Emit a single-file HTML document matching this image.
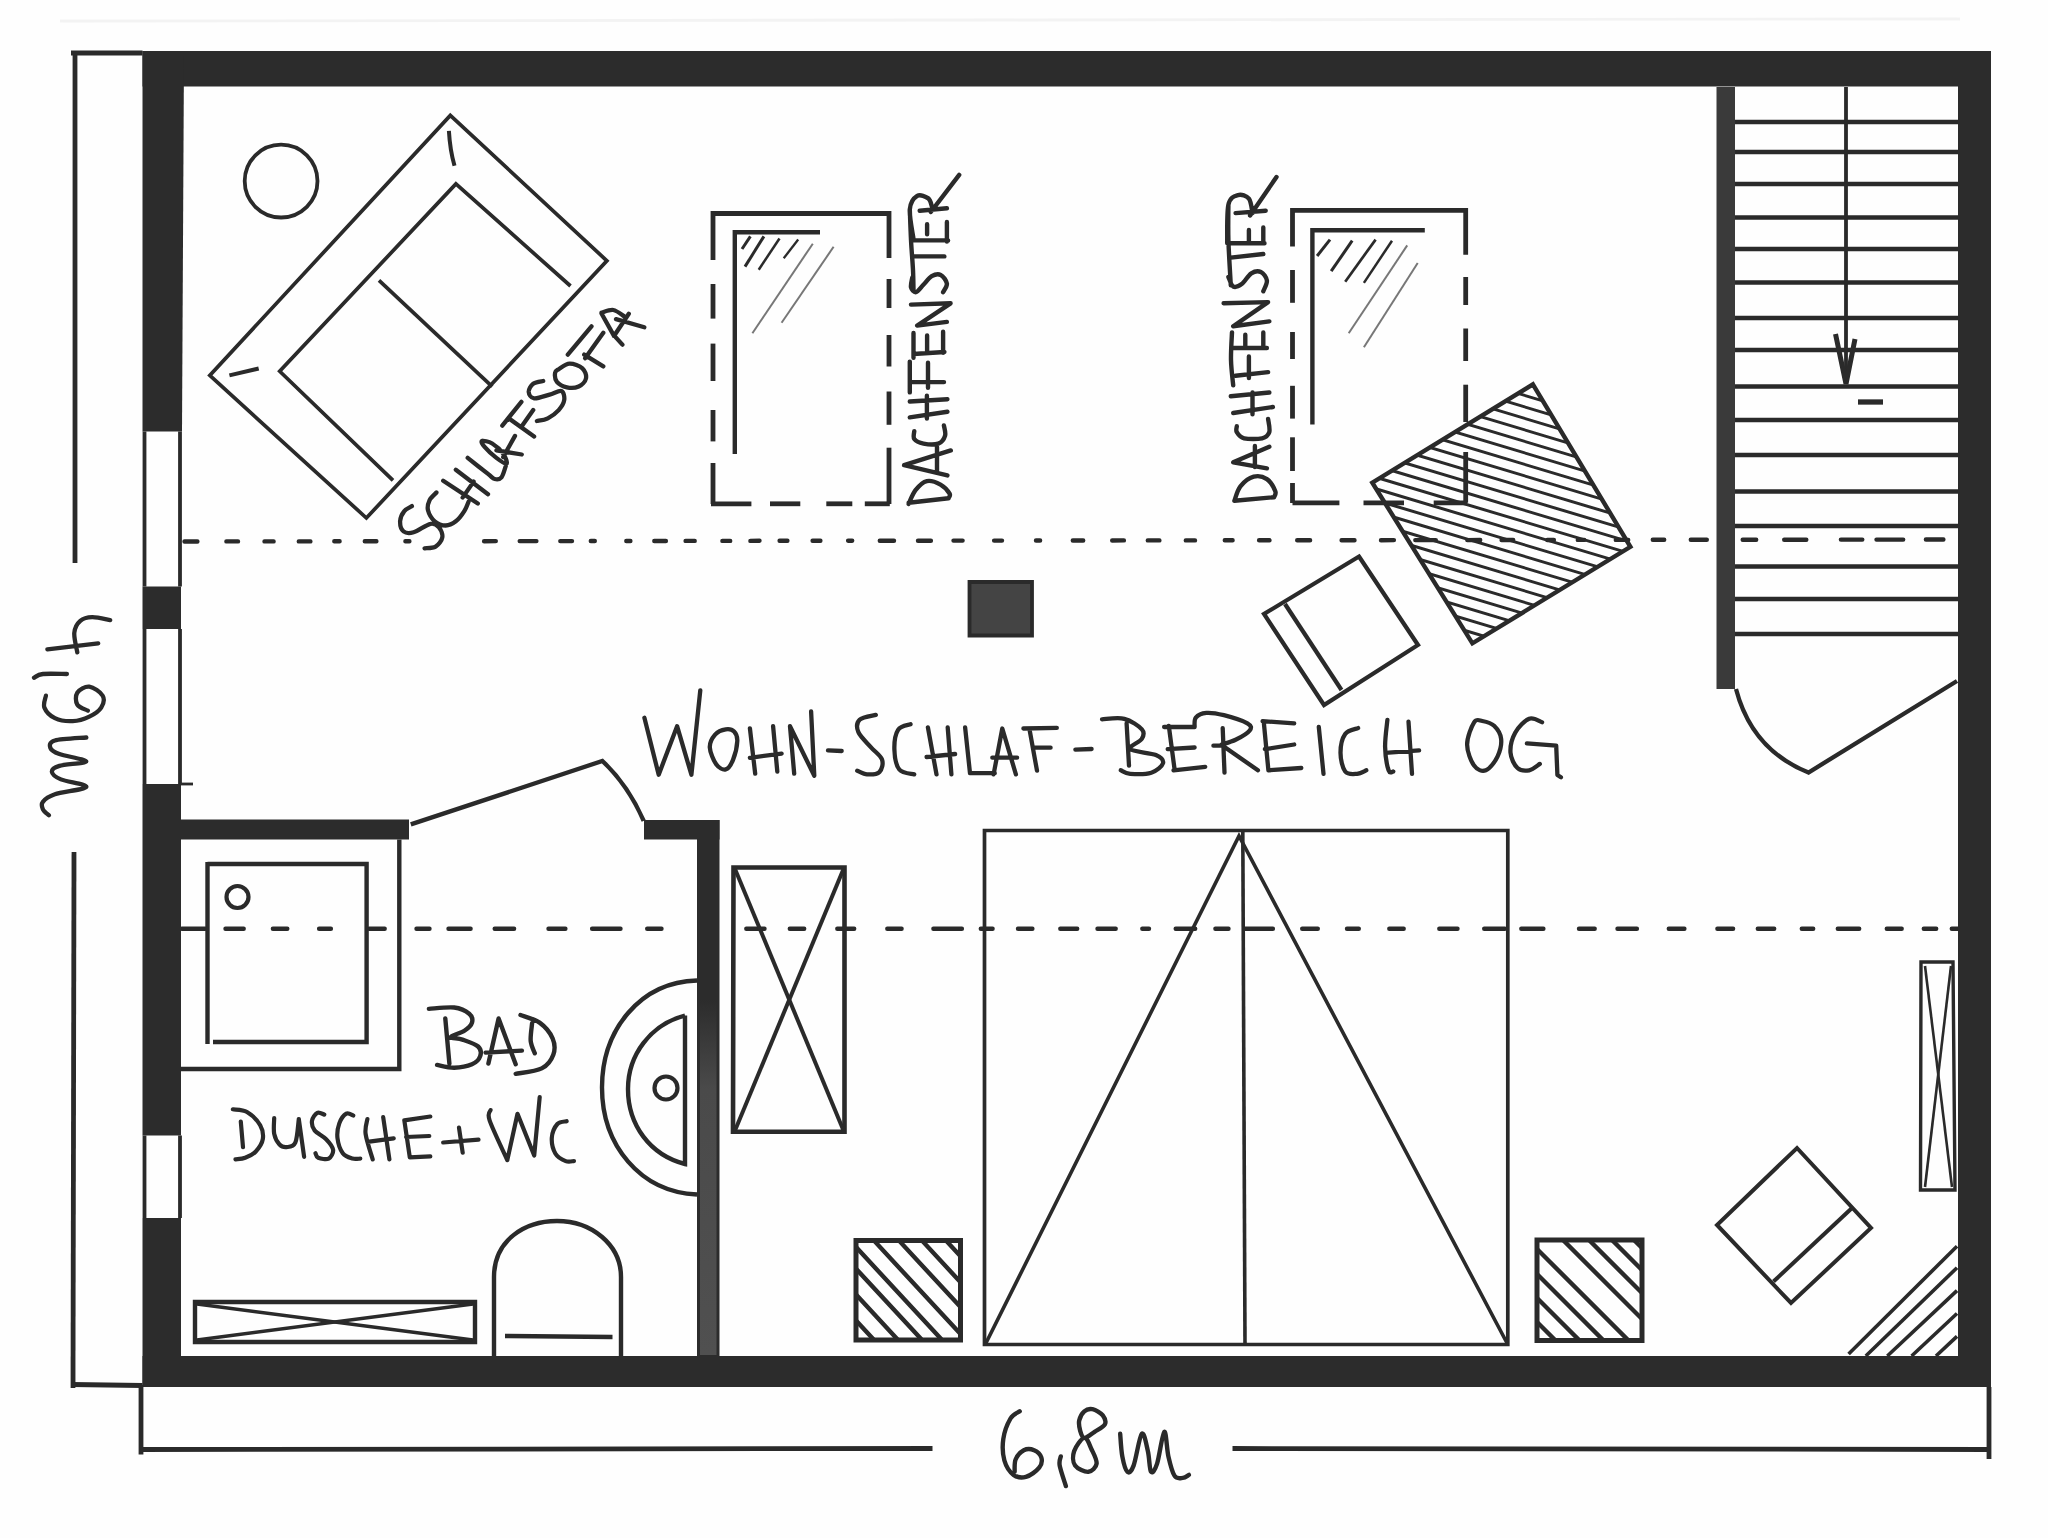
<!DOCTYPE html>
<html><head><meta charset="utf-8"><style>
html,body{margin:0;padding:0;background:#fff;}
body{width:2048px;height:1538px;overflow:hidden;font-family:"Liberation Sans",sans-serif;}
svg{display:block;}
</style></head><body>
<svg width="2048" height="1538" viewBox="0 0 2048 1538">
<rect x="0" y="0" width="2048" height="1538" fill="#fefefe"/>
<line x1="60" y1="21" x2="1960" y2="19" stroke="#f3f3f3" stroke-width="2.8" />
<path d="M184.5,541.5 L197.4,541.5 M226.4,541.4 L238,541.4 M264.5,541.4 L273.6,541.4 M298.8,541.4 L310.4,541.4 M334.3,541.3 L339.6,541.3 M364.8,541.3 L376.4,541.3 M405.4,541.2 L409.4,541.2 M484.1,541.2 L495.8,541.1 M519.7,541.1 L536.4,541.1 M560.3,541.1 L572,541.1 M590.8,541 L594.8,541 M626.3,541 L630.4,541 M654.3,541 L665.9,541 M685.6,540.9 L694.7,540.9 M722.4,540.9 L730.2,540.9 M750.4,540.9 L759.5,540.8 M779.6,540.8 L787.4,540.8 M812.6,540.8 L820.4,540.8 M848.1,540.8 L852.2,540.7 M879.8,540.7 L894,540.7 M918,540.7 L930.9,540.7 M953.5,540.6 L962.6,540.6 M994.1,540.6 L1002,540.6 M1036,540.5 L1040.1,540.5 M1072.8,540.5 L1083.2,540.5 M1112.2,540.5 L1123.9,540.4 M1147.8,540.4 L1159.4,540.4 M1185.8,540.4 L1195,540.4 M1224.8,540.3 L1232.6,540.3 M1259.1,540.3 L1269.5,540.3 M1297.2,540.2 L1310.1,540.2 M1341.6,540.2 L1354.5,540.2 M1381,540.2 L1393.9,540.1 M1415.3,540.1 L1435.8,540.1 M1467.3,540.1 L1480.2,540 M1501.6,540 L1513.2,540 M1547.3,540 L1553.9,540 M1577.8,539.9 L1584.2,539.9 M1615.8,539.9 L1628.2,539.9 M1652.8,539.8 L1664.2,539.8 M1690.8,539.8 L1706.8,539.8 M1742.7,539.7 L1756.2,539.7 M1784.2,539.7 L1806.3,539.7 M1840.9,539.6 L1862.3,539.6 M1876.5,539.6 L1903.2,539.6 M1925.9,539.5 L1943.4,539.5" stroke="#2a2a2a" stroke-width="4.4" stroke-linecap="round"/>
<path d="M181.8,928.7 L205.2,928.7 M225.5,928.7 L243.7,928.7 M272.9,928.7 L287.3,928.7 M319.1,928.7 L330.9,928.7 M369.1,928.7 L384.7,928.7 M416.5,928.7 L429.5,928.7 M448.5,928.7 L470.6,928.7 M494.7,928.7 L514.1,928.7 M548.5,928.7 L565.4,928.7 M592.1,928.7 L620.5,928.7 M647.2,928.7 L661.5,928.7 M746.3,928.7 L764.5,928.7 M789.8,928.7 L804.2,928.7 M837.3,928.7 L854.2,928.7 M887.3,928.7 L901.6,928.7 M933.4,928.7 L961.9,928.7 M980.8,928.7 L992.6,928.7 M1018,928.7 L1032.4,928.7 M1060.3,928.7 L1077.2,928.7 M1097.5,928.7 L1115.7,928.7 M1142.3,928.7 L1149,928.7 M1175.7,928.7 L1195.2,928.7 M1215.4,928.7 L1228.5,928.7 M1244.5,928.7 L1272.9,928.7 M1302.2,928.7 L1317.8,928.7 M1347,928.7 L1358.8,928.7 M1389.3,928.7 L1403.7,928.7 M1439.3,928.7 L1457.5,928.7 M1484.2,928.7 L1504.9,928.7 M1521.3,928.7 L1543.4,928.7 M1579,928.7 L1594.7,928.7 M1617.5,928.7 L1636.9,928.7 M1668.8,928.7 L1684.4,928.7 M1717.4,928.7 L1733.1,928.7 M1757.8,928.7 L1774.2,928.7 M1801.8,928.7 L1813.2,928.7 M1837.8,928.7 L1859.2,928.7 M1886.8,928.7 L1901.7,928.7 M1923.8,928.7 L1936.2,928.7 M1951.8,928.7 L1959.2,928.7" stroke="#2a2a2a" stroke-width="4.4" stroke-linecap="round"/>
<rect x="142.5" y="51" width="1848.5" height="35.5" fill="#2c2c2c"/>
<rect x="1958" y="51" width="33" height="1336" fill="#2c2c2c"/>
<rect x="142.5" y="1356" width="1848.5" height="31" fill="#2c2c2c"/>
<polygon points="142.5,51 184,51 182,431.5 142.5,431.5" stroke="none" stroke-width="0" fill="#2c2c2c" />
<rect x="142.5" y="586.5" width="38.5" height="42.5" fill="#2c2c2c"/>
<rect x="142.5" y="784" width="38.5" height="351.5" fill="#2c2c2c"/>
<rect x="142.5" y="1218" width="38.5" height="169" fill="#2c2c2c"/>
<line x1="144.5" y1="431.5" x2="144.5" y2="586.5" stroke="#2a2a2a" stroke-width="3.8" />
<line x1="180" y1="431.5" x2="180" y2="586.5" stroke="#2a2a2a" stroke-width="3.8" />
<line x1="144.5" y1="629" x2="144.5" y2="784" stroke="#2a2a2a" stroke-width="3.8" />
<line x1="180" y1="629" x2="180" y2="784" stroke="#2a2a2a" stroke-width="3.8" />
<line x1="144.5" y1="1135.5" x2="144.5" y2="1218" stroke="#2a2a2a" stroke-width="3.8" />
<line x1="180" y1="1135.5" x2="180" y2="1218" stroke="#2a2a2a" stroke-width="3.8" />
<line x1="180" y1="784" x2="193" y2="784" stroke="#2a2a2a" stroke-width="2.8" />
<rect x="180" y="819.5" width="229" height="20" fill="#2c2c2c"/>
<rect x="644" y="820" width="75.5" height="19.5" fill="#2c2c2c"/>
<rect x="697" y="820" width="22.5" height="537" fill="#2c2c2c"/>
<defs><linearGradient id="bw" x1="0" y1="0" x2="0" y2="1"><stop offset="0" stop-color="#2c2c2c"/><stop offset="0.25" stop-color="#4a4a4a"/><stop offset="1" stop-color="#505050"/></linearGradient></defs>
<rect x="700" y="1000" width="16.5" height="355" fill="url(#bw)"/>
<rect x="1716.5" y="87" width="18.5" height="602" fill="#3a3a3a"/>
<rect x="969.5" y="582" width="62.5" height="53.5" fill="#444"/>
<polygon points="969.5,582 1032,582 1032,635.5 969.5,635.5" stroke="#2a2a2a" stroke-width="3.8" fill="none" />
<line x1="75" y1="53" x2="75" y2="563" stroke="#2a2a2a" stroke-width="4.8" />
<line x1="71" y1="53" x2="142.5" y2="53" stroke="#2a2a2a" stroke-width="4.8" />
<line x1="74" y1="852" x2="73" y2="1388" stroke="#2a2a2a" stroke-width="4.8" />
<line x1="72" y1="1384.5" x2="142.5" y2="1385.5" stroke="#2a2a2a" stroke-width="4.8" />
<line x1="141" y1="1385" x2="141" y2="1454.5" stroke="#2a2a2a" stroke-width="4.8" />
<line x1="141" y1="1449.5" x2="932.5" y2="1448.5" stroke="#2a2a2a" stroke-width="4.8" />
<line x1="1232.5" y1="1448.5" x2="1989" y2="1449.5" stroke="#2a2a2a" stroke-width="4.8" />
<line x1="1989" y1="1387" x2="1989" y2="1459" stroke="#2a2a2a" stroke-width="4.8" />
<line x1="1735" y1="122" x2="1958" y2="122" stroke="#2a2a2a" stroke-width="4.6" />
<line x1="1735" y1="152" x2="1958" y2="152" stroke="#2a2a2a" stroke-width="4.6" />
<line x1="1735" y1="184" x2="1958" y2="184" stroke="#2a2a2a" stroke-width="4.6" />
<line x1="1735" y1="217.5" x2="1958" y2="217.5" stroke="#2a2a2a" stroke-width="4.6" />
<line x1="1735" y1="249" x2="1958" y2="249" stroke="#2a2a2a" stroke-width="4.6" />
<line x1="1735" y1="282.5" x2="1958" y2="282.5" stroke="#2a2a2a" stroke-width="4.6" />
<line x1="1735" y1="318" x2="1958" y2="318" stroke="#2a2a2a" stroke-width="4.6" />
<line x1="1735" y1="350" x2="1958" y2="350" stroke="#2a2a2a" stroke-width="4.6" />
<line x1="1735" y1="386.5" x2="1958" y2="386.5" stroke="#2a2a2a" stroke-width="4.6" />
<line x1="1735" y1="420" x2="1958" y2="420" stroke="#2a2a2a" stroke-width="4.6" />
<line x1="1735" y1="455" x2="1958" y2="455" stroke="#2a2a2a" stroke-width="4.6" />
<line x1="1735" y1="491.5" x2="1958" y2="491.5" stroke="#2a2a2a" stroke-width="4.6" />
<line x1="1735" y1="526" x2="1958" y2="526" stroke="#2a2a2a" stroke-width="4.6" />
<line x1="1735" y1="566.5" x2="1958" y2="566.5" stroke="#2a2a2a" stroke-width="4.6" />
<line x1="1735" y1="599" x2="1958" y2="599" stroke="#2a2a2a" stroke-width="4.6" />
<line x1="1735" y1="634" x2="1958" y2="634" stroke="#2a2a2a" stroke-width="4.6" />
<line x1="1846" y1="87" x2="1846" y2="380" stroke="#2a2a2a" stroke-width="3.8" />
<polyline points="1835.5,334 1846,384 1855,339" stroke="#2a2a2a" stroke-width="5" fill="none" />
<line x1="1858" y1="402" x2="1883" y2="402" stroke="#2a2a2a" stroke-width="5.3" />
<path d="M1736,689 Q1752,750 1808.5,772.5 L1957,681" stroke="#2a2a2a" stroke-width="4.3" fill="none" />
<polygon points="450.3,115.4 606.9,260.8 366.4,518 209.8,375.4" stroke="#2a2a2a" stroke-width="3.7" fill="none" />
<polyline points="570.5,286 455.9,183.9 279.7,371.3 393,480.3" stroke="#2a2a2a" stroke-width="3.7" fill="none" />
<line x1="379" y1="280.4" x2="492.2" y2="386.6" stroke="#2a2a2a" stroke-width="3.7" />
<path d="M448.9,130.8 Q450,150 454.5,165.7" stroke="#2a2a2a" stroke-width="4" fill="none" />
<line x1="229.4" y1="375.4" x2="258.7" y2="368.5" stroke="#2a2a2a" stroke-width="4" />
<circle cx="281.1" cy="181.1" r="36.4" stroke="#2a2a2a" stroke-width="3.8" fill="none"/>
<polyline points="713,260 713,213.5 889,213.5 889,258" stroke="#2a2a2a" stroke-width="4.8" fill="none" />
<line x1="713" y1="284" x2="713" y2="318.6" stroke="#2a2a2a" stroke-width="4.8" />
<line x1="713" y1="343.6" x2="713" y2="381" stroke="#2a2a2a" stroke-width="4.8" />
<line x1="713" y1="410" x2="713" y2="441.4" stroke="#2a2a2a" stroke-width="4.8" />
<line x1="713" y1="463" x2="713" y2="504" stroke="#2a2a2a" stroke-width="4.8" />
<line x1="889" y1="279" x2="889" y2="308" stroke="#2a2a2a" stroke-width="4.8" />
<line x1="889" y1="335" x2="889" y2="366.5" stroke="#2a2a2a" stroke-width="4.8" />
<line x1="889" y1="391.5" x2="889" y2="424.8" stroke="#2a2a2a" stroke-width="4.8" />
<line x1="889" y1="447.7" x2="889" y2="504" stroke="#2a2a2a" stroke-width="4.8" />
<line x1="711" y1="503.8" x2="751.4" y2="503.8" stroke="#2a2a2a" stroke-width="4.8" />
<line x1="770" y1="503.8" x2="800.3" y2="503.8" stroke="#2a2a2a" stroke-width="4.8" />
<line x1="826.3" y1="503.8" x2="852.3" y2="503.8" stroke="#2a2a2a" stroke-width="4.8" />
<line x1="864.8" y1="503.8" x2="889.8" y2="503.8" stroke="#2a2a2a" stroke-width="4.8" />
<polyline points="734.8,454 734.8,232.3 820,232.3" stroke="#2a2a2a" stroke-width="4.4" fill="none" />
<line x1="742" y1="249" x2="750.4" y2="236.4" stroke="#2a2a2a" stroke-width="3" />
<line x1="745" y1="266.6" x2="763.9" y2="236.4" stroke="#2a2a2a" stroke-width="3" />
<line x1="758.7" y1="269.7" x2="779.5" y2="238.5" stroke="#2a2a2a" stroke-width="2.5" />
<line x1="783.7" y1="258.3" x2="798.2" y2="239.5" stroke="#2a2a2a" stroke-width="2.3" />
<line x1="752.4" y1="333.2" x2="812.8" y2="243.7" stroke="#777" stroke-width="2" />
<line x1="781.6" y1="322.8" x2="833.6" y2="246.8" stroke="#777" stroke-width="2" />
<polyline points="1292.5,246.6 1292.5,210.3 1465.7,210.3 1465.7,254.8" stroke="#2a2a2a" stroke-width="4.8" fill="none" />
<line x1="1292.5" y1="270" x2="1292.5" y2="302.8" stroke="#2a2a2a" stroke-width="4.8" />
<line x1="1292.5" y1="332" x2="1292.5" y2="359" stroke="#2a2a2a" stroke-width="4.8" />
<line x1="1292.5" y1="385.8" x2="1292.5" y2="418.6" stroke="#2a2a2a" stroke-width="4.8" />
<line x1="1292.5" y1="437.3" x2="1292.5" y2="471" stroke="#2a2a2a" stroke-width="4.8" />
<line x1="1292.5" y1="483" x2="1292.5" y2="503" stroke="#2a2a2a" stroke-width="4.8" />
<line x1="1465.7" y1="277" x2="1465.7" y2="305" stroke="#2a2a2a" stroke-width="4.8" />
<line x1="1465.7" y1="328.5" x2="1465.7" y2="361" stroke="#2a2a2a" stroke-width="4.8" />
<line x1="1465.7" y1="384.7" x2="1465.7" y2="422" stroke="#2a2a2a" stroke-width="4.8" />
<line x1="1465.7" y1="452" x2="1465.7" y2="502.8" stroke="#2a2a2a" stroke-width="4.8" />
<line x1="1292.5" y1="502.8" x2="1339.4" y2="502.8" stroke="#2a2a2a" stroke-width="4.8" />
<line x1="1363.5" y1="502.8" x2="1404" y2="502.8" stroke="#2a2a2a" stroke-width="4.8" />
<line x1="1433.7" y1="502.8" x2="1467" y2="502.8" stroke="#2a2a2a" stroke-width="4.8" />
<polyline points="1312.4,424.5 1312.4,230.2 1424.8,230.2" stroke="#2a2a2a" stroke-width="4.4" fill="none" />
<line x1="1317.1" y1="256" x2="1330" y2="239.6" stroke="#2a2a2a" stroke-width="3" />
<line x1="1331.2" y1="271.2" x2="1352.2" y2="240.7" stroke="#2a2a2a" stroke-width="3" />
<line x1="1345.2" y1="281.7" x2="1375.6" y2="239.6" stroke="#2a2a2a" stroke-width="2.7" />
<line x1="1363.9" y1="282.9" x2="1392" y2="240.7" stroke="#2a2a2a" stroke-width="2.5" />
<line x1="1348.7" y1="333.2" x2="1407.2" y2="245.4" stroke="#777" stroke-width="2" />
<line x1="1363.9" y1="347.2" x2="1417.7" y2="263" stroke="#777" stroke-width="2" />
<clipPath id="ht"><polygon points="1532.9,384.4 1630.4,546.8 1472.4,643.3 1372.3,482.7"/></clipPath>
<path d="M1340,-166 L1660,-70 M1340,-154.5 L1660,-58.5 M1340,-143 L1660,-47 M1340,-131.5 L1660,-35.5 M1340,-120 L1660,-24 M1340,-108.5 L1660,-12.5 M1340,-97 L1660,-1 M1340,-85.5 L1660,10.5 M1340,-74 L1660,22 M1340,-62.5 L1660,33.5 M1340,-51 L1660,45 M1340,-39.5 L1660,56.5 M1340,-28 L1660,68 M1340,-16.5 L1660,79.5 M1340,-5 L1660,91 M1340,6.5 L1660,102.5 M1340,18 L1660,114 M1340,29.5 L1660,125.5 M1340,41 L1660,137 M1340,52.5 L1660,148.5 M1340,64 L1660,160 M1340,75.5 L1660,171.5 M1340,87 L1660,183 M1340,98.5 L1660,194.5 M1340,110 L1660,206 M1340,121.5 L1660,217.5 M1340,133 L1660,229 M1340,144.5 L1660,240.5 M1340,156 L1660,252 M1340,167.5 L1660,263.5 M1340,179 L1660,275 M1340,190.5 L1660,286.5 M1340,202 L1660,298 M1340,213.5 L1660,309.5 M1340,225 L1660,321 M1340,236.5 L1660,332.5 M1340,248 L1660,344 M1340,259.5 L1660,355.5 M1340,271 L1660,367 M1340,282.5 L1660,378.5 M1340,294 L1660,390 M1340,305.5 L1660,401.5 M1340,317 L1660,413 M1340,328.5 L1660,424.5 M1340,340 L1660,436 M1340,351.5 L1660,447.5 M1340,363 L1660,459 M1340,374.5 L1660,470.5 M1340,386 L1660,482 M1340,397.5 L1660,493.5 M1340,409 L1660,505 M1340,420.5 L1660,516.5 M1340,432 L1660,528 M1340,443.5 L1660,539.5 M1340,455 L1660,551 M1340,466.5 L1660,562.5 M1340,478 L1660,574 M1340,489.5 L1660,585.5 M1340,501 L1660,597 M1340,512.5 L1660,608.5 M1340,524 L1660,620 M1340,535.5 L1660,631.5 M1340,547 L1660,643 M1340,558.5 L1660,654.5 M1340,570 L1660,666 M1340,581.5 L1660,677.5 M1340,593 L1660,689 M1340,604.5 L1660,700.5 M1340,616 L1660,712 M1340,627.5 L1660,723.5 M1340,639 L1660,735 M1340,650.5 L1660,746.5 M1340,662 L1660,758 M1340,673.5 L1660,769.5 M1340,685 L1660,781 M1340,696.5 L1660,792.5 M1340,708 L1660,804 M1340,719.5 L1660,815.5 M1340,731 L1660,827 M1340,742.5 L1660,838.5" stroke="#2a2a2a" stroke-width="3" clip-path="url(#ht)"/>
<polygon points="1532.9,384.4 1630.4,546.8 1472.4,643.3 1372.3,482.7" stroke="#2a2a2a" stroke-width="4.4" fill="none" />
<polygon points="1359,556.5 1418,645 1324,705 1264,614" stroke="#2a2a2a" stroke-width="4.2" fill="none" />
<line x1="1285" y1="604" x2="1341.5" y2="690" stroke="#2a2a2a" stroke-width="4.2" />
<path d="M410.8,824.4 L602.4,761 Q628,785 643.7,820.9" stroke="#2a2a2a" stroke-width="4.4" fill="none" />
<polyline points="399.3,839.5 399.3,1069 180,1069" stroke="#2a2a2a" stroke-width="4.4" fill="none" />
<polyline points="207.5,864 366.6,864 366.6,1042 213,1042" stroke="#2a2a2a" stroke-width="4.4" fill="none" />
<line x1="207.5" y1="862" x2="207.5" y2="1044" stroke="#2a2a2a" stroke-width="4.4" />
<circle cx="237.5" cy="897" r="11" stroke="#2a2a2a" stroke-width="4.2" fill="none"/>
<path d="M697,980.5 C640,982 602,1030 602,1087.5 C602,1145 640,1192 697,1194.5" stroke="#2a2a2a" stroke-width="4.4" fill="none" />
<path d="M685,1015.5 C650,1025 628,1055 628,1089 C628,1125 650,1155 685,1164 L685,1015.5" stroke="#2a2a2a" stroke-width="4.4" fill="none" />
<circle cx="666" cy="1088" r="11.5" stroke="#2a2a2a" stroke-width="4.2" fill="none"/>
<polygon points="195,1302 475,1302 475,1342 195,1342" stroke="#2a2a2a" stroke-width="4.4" fill="none" />
<line x1="197" y1="1304" x2="473" y2="1340" stroke="#2a2a2a" stroke-width="3.4" />
<line x1="197" y1="1340" x2="473" y2="1304" stroke="#2a2a2a" stroke-width="3.4" />
<path d="M494,1356 L494,1277 C494,1240 525,1221 557,1221 C592,1221 621,1245 621,1277 L621,1356" stroke="#2a2a2a" stroke-width="4.4" fill="none" />
<line x1="505" y1="1336" x2="612.5" y2="1337" stroke="#2a2a2a" stroke-width="4.4" />
<polygon points="733.5,867.5 844.5,867.5 844.5,1131.8 733,1131.8" stroke="#2a2a2a" stroke-width="4.6" fill="none" />
<line x1="735" y1="869" x2="843.5" y2="1130.5" stroke="#2a2a2a" stroke-width="4" />
<line x1="843.5" y1="869" x2="735" y2="1130.5" stroke="#2a2a2a" stroke-width="4" />
<polygon points="984.5,830.5 1507.8,830.5 1507.8,1344.5 984.5,1344.5" stroke="#2a2a2a" stroke-width="3.7" fill="none" />
<line x1="1242.8" y1="830" x2="1245" y2="1344.5" stroke="#2a2a2a" stroke-width="3.6" />
<polyline points="986,1343 1239,836 1507,1343" stroke="#2a2a2a" stroke-width="3.6" fill="none" />
<clipPath id="n1"><polygon points="856,1240.6 960.5,1240.6 960.5,1340 856,1340"/></clipPath>
<path d="M782,1240.6 L911.1,1380 M806,1240.6 L935.1,1380 M830,1240.6 L959.1,1380 M850,1240.6 L979.1,1380 M874,1240.6 L1003.1,1380 M899,1240.6 L1028.1,1380 M922,1240.6 L1051.1,1380 M946,1240.6 L1075.1,1380" stroke="#2a2a2a" stroke-width="4.4" clip-path="url(#n1)"/>
<polygon points="856,1240.6 960.5,1240.6 960.5,1340 856,1340" stroke="#2a2a2a" stroke-width="5" fill="none" />
<clipPath id="n2"><polygon points="1537,1240 1642,1240 1642,1340.5 1537,1340.5"/></clipPath>
<path d="M1455,1240 L1595.5,1380.5 M1479,1240 L1619.5,1380.5 M1503,1240 L1643.5,1380.5 M1528,1240 L1668.5,1380.5 M1563,1240 L1703.5,1380.5 M1589,1240 L1729.5,1380.5 M1612,1240 L1752.5,1380.5 M1634,1240 L1774.5,1380.5" stroke="#2a2a2a" stroke-width="4.4" clip-path="url(#n2)"/>
<polygon points="1537,1240 1642,1240 1642,1340.5 1537,1340.5" stroke="#2a2a2a" stroke-width="5" fill="none" />
<polygon points="1797,1148 1871,1228 1791,1303 1717,1225" stroke="#2a2a2a" stroke-width="4" fill="none" />
<line x1="1852" y1="1208" x2="1773.5" y2="1281.5" stroke="#2a2a2a" stroke-width="4" />
<polygon points="1921,962 1953,962 1955,1190 1920.5,1190" stroke="#2a2a2a" stroke-width="3.4" fill="none" />
<line x1="1925" y1="966" x2="1952" y2="1187" stroke="#2a2a2a" stroke-width="2.6" />
<line x1="1951" y1="966" x2="1925" y2="1187" stroke="#2a2a2a" stroke-width="2.6" />
<line x1="1848.6" y1="1354" x2="1957" y2="1246.2" stroke="#2a2a2a" stroke-width="3.6" />
<line x1="1865.8" y1="1356" x2="1957" y2="1267.7" stroke="#2a2a2a" stroke-width="3.6" />
<line x1="1887.3" y1="1356" x2="1957" y2="1290.6" stroke="#2a2a2a" stroke-width="3.6" />
<line x1="1911.6" y1="1356" x2="1957" y2="1313.5" stroke="#2a2a2a" stroke-width="3.6" />
<line x1="1936" y1="1356" x2="1957" y2="1336.4" stroke="#2a2a2a" stroke-width="3.6" />
<path d="M644.4,717.8 L658.7,774.7 L677.1,726.2 L691.4,774.7 L700.3,690.3 M715.1,734.6 C712.5,737.6 709.6,742.4 709.8,747.3 C710,752.2 713.6,760.5 716.2,764.2 C718.9,767.9 722.9,770.1 725.7,769.4 C728.5,768.7 731.1,764.6 733,759.9 C734.9,755.2 737.1,745.7 737.3,741 C737.5,736.3 736,733.4 734.1,731.5 C732.2,729.6 728.9,728.9 725.7,729.4 C722.5,729.9 717.8,731.6 715.1,734.6 M749.9,728.3 L755.2,773.7 M773.1,726.2 L777.3,771.5 M749.9,757.8 L781.6,753.6 M794.2,773.7 L790,726.2 L814.3,775.8 L811.1,711.4 M828,750.4 L841.7,751 M875.8,714.9 C873.1,715.7 862.5,716.9 859.6,719.8 C856.7,722.7 856.5,727.7 858.4,732.2 C860.3,736.8 866.9,742.6 870.8,747.1 C874.7,751.6 880.5,755.4 882,759.5 C883.5,763.6 882,769.4 879.5,771.9 C877,774.4 870.8,774.6 867.1,774.4 C863.4,774.2 858.9,771.3 857.2,770.7 M910.5,724.2 C908.4,725.1 900.8,725.6 898.1,729.8 C895.4,734 894.2,743 894.4,749.6 C894.6,756.2 896,765.4 899.3,769.5 C902.6,773.6 911.7,773.6 914.2,774.4 M927.9,727.3 L936.5,774.4 M947.7,727.3 L951.4,774.4 M926.6,757 L955.1,754 M965.1,727.3 L970,773.2 L994.8,773.2 M993.6,774.4 L1002.3,728.5 L1015.9,774.4 M992.3,757.7 L1017.1,757.7 M1023.4,728.5 L1056.8,727.9 M1029.6,729.8 L1037,770.7 M1034.5,747.7 L1050.6,747.7 M1075.4,749.6 L1091.6,749 M1102,719.3 C1105.7,719.2 1117.6,717.1 1124.3,718.8 C1131,720.5 1139,726 1141.9,729.3 C1144.8,732.6 1143.9,735.4 1141.9,738.7 C1140,742 1127.9,746.5 1130.2,749.2 C1132.5,751.9 1150.4,752.8 1155.9,755.1 C1161.4,757.5 1163.8,760.4 1163,763.3 C1162.2,766.2 1156.8,771 1151.3,772.7 C1145.8,774.5 1135.3,774.2 1130.2,773.8 C1125.1,773.4 1122.4,770.9 1120.8,770.3 M1126.6,723.4 L1129,765.6 M1168.8,725.8 L1174.7,770.3 M1164.1,727 L1194.6,727 M1194.6,727 C1194.8,725.4 1193.8,720 1195.8,717.6 C1197.8,715.2 1201.6,713.3 1206.3,712.9 C1211,712.5 1217.1,713.5 1223.9,715.2 C1230.8,717 1243.1,720.9 1247.4,723.4 C1251.7,725.9 1251.7,727.8 1249.7,730.5 C1247.7,733.2 1240.3,737.5 1235.6,739.8 C1230.9,742.1 1223.9,743.7 1221.6,744.5 M1167.7,749.2 L1194.6,747.5 M1173.5,770.3 L1205.2,766.8 M1222.7,728.1 L1224.5,772.7 M1213.4,745.7 L1222.7,745.7 L1257.9,770.3 M1263.8,722.3 L1268.4,770.3 M1262.6,721.1 L1294.2,723.4 M1264.9,749.2 L1294.2,744.5 M1268.4,770.3 L1301.3,768 M1318.8,727 L1323.5,773.8 M1358.1,728.1 C1355.9,729.1 1348.1,729.9 1345.2,734 C1342.3,738.1 1340.5,746.5 1340.5,752.7 C1340.5,759 1342.5,768 1345.2,771.5 C1348,775 1353.5,774 1357,773.8 C1360.5,773.6 1364.8,770.9 1366.3,770.3 M1387.4,719.9 C1387,724.4 1384.9,738.5 1385.1,746.9 C1385.3,755.3 1387.2,766.2 1388.6,770.3 C1390,774.4 1392.5,771.3 1393.3,771.5 M1408.5,721.7 L1412,773.8 M1388.6,752.7 L1419.1,750.4 M1474.1,722.3 C1471.6,726.2 1467.1,737.3 1467.1,744.5 C1467.1,751.7 1471,761.3 1474.1,765.6 C1477.2,769.9 1482,771.8 1485.9,770.3 C1489.8,768.8 1495.1,761.6 1497.6,756.3 C1500.1,751 1501.7,743.8 1501.1,738.7 C1500.5,733.6 1497.2,728.8 1494.1,725.8 C1491,722.8 1485.6,721.6 1482.3,721 C1479,720.4 1476.6,718.4 1474.1,722.3 M1542.1,722.3 C1539.9,721.7 1533.7,717 1529.2,718.8 C1524.7,720.5 1518.3,727.1 1515.2,732.8 C1512.1,738.4 1510.1,746.8 1510.5,752.7 C1510.9,758.6 1514.4,765.1 1517.5,768 C1520.6,770.9 1525.5,771 1529.2,770.3 C1532.9,769.6 1538,765 1539.8,763.9 M1526.9,743.4 L1556.2,745.7 L1557.4,775 L1560.9,777.3" stroke="#2a2a2a" stroke-width="4.3" fill="none" stroke-linecap="round" stroke-linejoin="round"/>
<path d="M428.9,1008.9 C433.1,1008.7 447.5,1006.7 454.2,1007.5 C460.9,1008.3 466.2,1011.2 469.2,1013.7 C472.2,1016.2 472.8,1019.8 472,1022.6 C471.2,1025.5 467.9,1028.4 464.4,1030.8 C460.9,1033.2 451.1,1035.4 450.8,1036.9 C450.5,1038.4 457.8,1038 462.4,1039.6 C466.9,1041.2 475.1,1043.8 478.1,1046.5 C481.1,1049.2 481.2,1053.1 480.2,1056.1 C479.2,1059.1 476.3,1062.4 472,1064.3 C467.7,1066.2 460,1067.6 454.2,1067.7 C448.4,1067.8 440,1065.4 437.1,1064.9 M445.3,1018.5 L449.4,1063.6 M488.4,1063.6 L498.6,1018.5 L515.7,1064.3 M485.6,1052.6 L521.9,1050.6 M534.8,1053.3 C534.1,1051.2 531.2,1046 530.7,1041 C530.2,1036 531.9,1026.2 532.1,1023.2 M520.5,1015 C523.7,1016.3 534.2,1018.7 539.6,1022.6 C545,1026.5 550.3,1033 552.6,1038.3 C554.9,1043.6 555.1,1049.7 553.3,1054.7 C551.5,1059.7 548,1065.2 541.7,1068.4 C535.4,1071.6 520,1072.9 515.7,1073.8" stroke="#2a2a2a" stroke-width="4.4" fill="none" stroke-linecap="round" stroke-linejoin="round"/>
<path d="M240.8,1121.6 L243,1147.1 M232.9,1109.3 C235.2,1109.8 242.4,1109.3 247,1112 C251.6,1114.7 257.6,1120.7 260.2,1125.2 C262.8,1129.7 263.5,1134.8 262.8,1139.2 C262.1,1143.6 258.7,1148.4 255.8,1151.5 C252.9,1154.6 248.6,1156.4 245.2,1157.7 C241.8,1159 237.1,1159.1 235.5,1159.4 M274.2,1118.1 C274.2,1120.7 273.3,1129.5 274.2,1133.9 C275.1,1138.3 277.4,1142.3 279.5,1144.5 C281.6,1146.7 283.9,1147.4 286.5,1147.1 C289.1,1146.8 293.2,1147.4 295.3,1142.7 C297.4,1138 298.2,1123 298.8,1119 M298.8,1119 L304.1,1156.8 M324.3,1114.6 C323.1,1114.3 319.4,1111.9 317.3,1112.9 C315.2,1113.9 312.4,1117.9 312,1120.8 C311.6,1123.7 312.2,1127.3 314.6,1130.4 C317,1133.5 323,1136 326.1,1139.2 C329.2,1142.4 332.7,1146.6 333.1,1149.8 C333.5,1153 331.2,1157.3 328.7,1158.6 C326.2,1159.9 320.4,1158.6 318.2,1157.7 C316,1156.8 315.9,1154 315.5,1153.3 M353.3,1115.5 C352.1,1115.2 348.6,1112.4 346.3,1113.7 C344,1115 340.8,1119.3 339.3,1123.4 C337.8,1127.5 336.9,1133.3 337.5,1138.3 C338.1,1143.3 340.3,1149.9 342.8,1153.3 C345.3,1156.7 349.5,1157.7 352.4,1158.6 C355.3,1159.5 359,1158.6 360.3,1158.6 M367.4,1119 C367.1,1121.5 364.7,1127.2 365.6,1133.9 C366.5,1140.6 371.5,1155.2 372.7,1159.4 M383.2,1117.2 L389.4,1159.4 M367.4,1141.9 L393.7,1138.3 M430.3,1116.5 L404.3,1120.3 L409.8,1157.4 L430.3,1156.4 M406.1,1137 L429.3,1136 M443.2,1142.5 L478.5,1139.7 M459,1127.7 L462.7,1152.7 M490.6,1110 C490.4,1111.7 486.8,1112 489.6,1120.3 C492.4,1128.6 504.4,1153.5 507.3,1160.1 M507.3,1160.1 L517.5,1113.8 L534.2,1155.5 L539.7,1097.1 M566.6,1121.2 C565.1,1121.7 559.9,1121.2 557.4,1124 C554.9,1126.8 552.1,1133 551.8,1137.9 C551.5,1142.9 553.2,1149.8 555.5,1153.7 C557.8,1157.6 562.6,1159.9 565.7,1161.1 C568.8,1162.3 572.6,1161.1 574,1161.1" stroke="#2a2a2a" stroke-width="4.2" fill="none" stroke-linecap="round" stroke-linejoin="round"/>
<path d="M1019.7,1411.3 C1018.2,1412.5 1013.2,1413.9 1010.5,1418.5 C1007.8,1423.1 1004.3,1432 1003.3,1439 C1002.3,1446 1002.7,1454.5 1004.4,1460.5 C1006.1,1466.5 1010,1472.2 1013.6,1474.9 C1017.2,1477.6 1021.6,1478.1 1025.9,1476.9 C1030.2,1475.7 1036.6,1471 1039.2,1467.7 C1041.8,1464.5 1042.2,1460.3 1041.3,1457.4 C1040.4,1454.5 1037,1451.4 1034.1,1450.2 C1031.2,1449 1026.9,1448.7 1023.8,1450.2 C1020.7,1451.8 1017.1,1455.9 1015.6,1459.5 C1014.1,1463.1 1014.8,1469.8 1014.6,1471.8 M1060.8,1456.4 C1060.6,1457.9 1058.8,1460.6 1059.7,1465.6 C1060.6,1470.5 1064.9,1482.7 1065.9,1486.1 M1084.3,1437.9 C1081.9,1437.7 1081,1433.7 1080.2,1430.8 C1079.4,1427.9 1078.5,1423.8 1079.2,1420.5 C1079.9,1417.2 1082.1,1413.2 1084.3,1411.3 C1086.5,1409.4 1089.4,1408.5 1092.5,1409.2 C1095.6,1409.9 1100.8,1412.8 1102.8,1415.4 C1104.8,1418 1106.2,1421.9 1104.8,1424.6 C1103.4,1427.3 1098,1429.6 1094.6,1431.8 C1091.2,1434 1086.7,1438.1 1084.3,1437.9 M1084.3,1437.9 C1081.4,1438.2 1075.6,1446.7 1074.1,1451.3 C1072.6,1455.9 1072.7,1462.2 1075.1,1465.6 C1077.5,1469 1084.8,1472.1 1088.4,1471.8 C1092,1471.5 1096.1,1467.4 1096.6,1463.6 C1097.1,1459.8 1093.5,1453.5 1091.5,1449.2 C1089.5,1444.9 1087.2,1437.6 1084.3,1437.9 M1120.2,1433.8 C1120.5,1437.6 1121.1,1450.1 1122.3,1456.4 C1123.5,1462.7 1125.5,1470.3 1127.4,1471.8 C1129.3,1473.3 1131.2,1471.9 1133.6,1465.6 C1136,1459.3 1139.4,1436.2 1141.8,1433.8 C1144.2,1431.4 1146.4,1445 1147.9,1451.3 C1149.4,1457.6 1149.5,1469.8 1151,1471.8 C1152.5,1473.8 1154.9,1470.3 1157.1,1463.6 C1159.3,1456.9 1162.4,1433 1164.3,1431.8 C1166.2,1430.6 1166.7,1449.1 1168.4,1456.4 C1170.1,1463.8 1172.2,1472.3 1174.6,1475.9 C1177,1479.5 1180.4,1478.1 1182.8,1477.9 C1185.2,1477.7 1187.9,1475.4 1188.9,1474.9" stroke="#2a2a2a" stroke-width="4.4" fill="none" stroke-linecap="round" stroke-linejoin="round"/>
<path d="M47.4,649.3 L98.2,643.3 M77.3,652.3 C76.8,649.1 73.8,638.1 74.3,632.9 C74.8,627.7 77.3,623.5 80.3,620.9 C83.3,618.3 87.3,617.3 92.3,617.2 C97.3,617.1 107.2,619.7 110.2,620.2 M34,677.7 C35.5,677.1 37.4,674.6 42.9,674 C48.4,673.4 62.9,674 66.9,674 M87.8,710.6 C86,709.6 79,707.6 77.3,704.6 C75.5,701.6 75.3,695.7 77.3,692.7 C79.3,689.7 85.1,686.2 89.3,686.7 C93.5,687.2 100.7,692.2 102.7,695.7 C104.7,699.2 103.4,704.1 101.2,707.6 C99,711.1 94,714.4 89.3,716.6 C84.6,718.9 78.5,720.9 72.8,721.1 C67.1,721.4 59.6,720.4 54.9,718.1 C50.2,715.9 45.9,711.3 44.4,707.6 C42.9,703.9 45.6,697.7 45.9,695.7 M86.3,737.5 C81.1,738 60.9,738.8 54.9,740.5 C48.9,742.2 49.6,745.8 50.4,748 C51.1,750.2 53.4,751.8 59.4,754 C65.4,756.2 86.3,759.4 86.3,761.4 C86.3,763.4 65.1,764.1 59.4,765.9 C53.7,767.6 51.6,769.6 51.9,771.9 C52.1,774.1 55.2,776.9 60.9,779.4 C66.6,781.9 87.3,784.4 86.3,786.9 C85.3,789.4 62.1,791.8 54.9,794.3 C47.7,796.8 44.9,799.3 42.9,801.8 C40.9,804.3 41.9,807.1 42.9,809.3 C43.9,811.5 47.9,814.2 48.9,815.2" stroke="#2a2a2a" stroke-width="4.3" fill="none" stroke-linecap="round" stroke-linejoin="round"/>
<path d="M948.5,498.2 L908.7,502.8 M908.7,503.9 C909.8,501.6 912.5,494 915.5,490.2 C918.5,486.4 922.7,482 926.9,481.1 C931.1,480.2 936.7,482.5 940.5,484.6 C944.3,486.7 948.3,491.4 949.6,493.7 C950.9,496 948.7,497.4 948.5,498.2 M947.4,475.4 L904.1,465.2 L950.8,450.4 M937,447 L937,472 M943.9,425.4 C944.1,427.1 946,432.6 945.1,435.6 C944.2,438.6 941.9,442.3 938.3,443.6 C934.7,444.9 927.5,444.4 923.5,443.6 C919.5,442.8 915.8,441.1 914.3,439 C912.8,436.9 914.3,432.4 914.3,431.1 M909.8,401.5 L947.4,399.2 M909.8,417.4 L947.4,411.7 M926.9,395.8 L926.9,418.5 M909.8,361.6 L909.8,392.4 M928,362.8 L928,387.8 M912,382.1 L944,382.1 M913.5,333 L913.5,357.7 M927.1,335.4 L927.1,351.5 M943.1,331.7 L943.1,352.7 M913.5,354 L944.4,352 M911,304.6 L950.6,303.3 L917.2,325.6 L946.9,321.9 M943.1,292.2 C943.7,290.8 947.3,286.5 946.9,283.6 C946.5,280.7 943.2,276.1 940.7,274.9 C938.2,273.7 934.6,274.5 931.7,276.2 C928.8,277.9 926,282.1 923.4,284.8 C920.8,287.5 918.1,291.8 916,292.2 C913.9,292.6 911.6,289.8 911,287.3 C910.4,284.8 912.1,279 912.3,277.4 M913.5,256.4 L944.4,256.4 M909.8,209.5 C910,214.6 910.5,229.9 911,240 C911.5,250.1 912.6,261.7 913,270 C913.4,278.3 913.4,286.7 913.5,290 M927.1,224.3 L927.1,234.2 M946.9,221.9 L946.9,241.6 M913.5,240.4 L948.1,240.4 M913.5,239.1 C912.9,234.2 909.2,216.7 909.8,209.5 C910.4,202.3 914.1,197.8 917.2,195.9 C920.3,194.1 925.8,196.6 928.3,198.4 C930.8,200.2 931.4,205.6 932,207 M919.7,210.7 L946.9,208.3 M959.2,174.9 L930.8,212" stroke="#2a2a2a" stroke-width="4.4" fill="none" stroke-linecap="round" stroke-linejoin="round"/>
<path d="M1274.1,497.2 L1234.4,500.8 M1234.4,500.8 C1235.4,498.4 1237.2,490.4 1240.4,486.4 C1243.6,482.4 1249.3,477.9 1253.7,476.7 C1258.1,475.5 1263.3,476.7 1266.9,479.1 C1270.5,481.5 1274.1,488.2 1275.3,491.2 C1276.5,494.2 1274.3,496.2 1274.1,497.2 M1266.9,468.3 L1233.2,462.3 L1269.3,446.7 M1254.9,446 L1254.9,467 M1268.1,419 C1268.3,421.2 1270.3,429 1269.3,432.2 C1268.3,435.4 1266.3,437.3 1262.1,438.3 C1257.9,439.3 1248.3,439.3 1244.1,438.3 C1239.9,437.3 1238,434.2 1236.8,432.2 C1235.6,430.2 1236.8,427.2 1236.8,426.2 M1230.8,396.2 L1269.3,392.5 M1233.2,413 L1272.9,407 M1252.5,392.5 L1252.5,414.2 M1248.9,356.5 L1248.9,378.1 M1235.6,375.7 L1268.1,372.1 M1232,332.4 C1231.8,337 1230.8,351.2 1231,360 C1231.2,368.8 1232.8,381.1 1233.2,385.3 M1245.3,334.8 L1245.3,345.6 M1263.3,332.4 L1263.3,348 M1232,348 L1266.9,348 M1223.6,303.3 L1268.1,302.1 L1233.2,326.2 L1269.3,321.4 M1263.3,291.3 C1263.9,289.5 1267.3,283.7 1266.9,280.5 C1266.5,277.3 1263.5,273.2 1260.9,272 C1258.3,270.8 1254.5,271.3 1251.3,273.3 C1248.1,275.3 1244.7,281.9 1241.7,284.1 C1238.7,286.3 1235.4,287.7 1233.2,286.5 C1231,285.3 1229.2,278.5 1228.4,276.9 M1230.8,257.6 L1263.3,254 M1228.4,204.7 C1228.4,210.6 1228,226.6 1228.4,240 C1228.8,253.4 1230.4,277.8 1230.8,285.3 M1248.9,230 L1248.9,243.2 M1263.3,227.5 L1263.3,242 M1229.6,243.2 L1264.5,243.2 M1227.2,243.2 C1227.4,236.8 1226.6,212.7 1228.4,204.7 C1230.2,196.7 1234.6,196.1 1238,195.1 C1241.4,194.1 1246.5,195.7 1248.9,198.7 C1251.3,201.7 1251.9,210.7 1252.5,213.1 M1235.6,213.1 L1265.7,210.7 M1276.5,177 L1250.1,215.5" stroke="#2a2a2a" stroke-width="4.4" fill="none" stroke-linecap="round" stroke-linejoin="round"/>
<path d="M411.9,506.1 C410.6,506.9 406.3,508.6 404.3,511.1 C402.3,513.6 400.2,517.9 400.1,521.3 C400,524.7 401.2,529.6 403.5,531.4 C405.8,533.2 409.1,533.6 413.6,532.3 C418.1,531 426.3,524.6 430.5,523.8 C434.7,522.9 436.9,525 438.9,527.2 C440.9,529.5 442.9,534.1 442.3,537.3 C441.8,540.5 438.6,544.8 435.6,546.6 C432.7,548.4 426.4,548 424.6,548.3 M436.4,492.5 C435.3,493.8 431,497.1 429.6,500.1 C428.2,503.1 427.1,506.8 428,510.3 C428.9,513.8 431.8,518.8 434.7,521.3 C437.6,523.8 442.2,525.5 445.7,525.5 C449.2,525.5 452.7,523.7 455.8,521.3 C458.9,518.9 462.2,514.4 464.3,511.1 C466.4,507.9 467.8,503.4 468.5,501.8 M443.2,480.7 L477.8,503.5 M455.8,469.7 L488,494.2 M462.6,497.6 L473.6,481.6 M467.7,457.9 C471.1,460.6 483.5,470.4 488,473.9 C492.5,477.4 492.4,478.4 494.7,479 C496.9,479.6 499.7,479.4 501.5,477.3 C503.3,475.2 505,468.1 505.7,466.3 M482,441 C483.3,440.4 488.7,441.4 492.2,443.5 C495.7,445.6 500.8,450.3 503.2,453.7 C505.6,457.1 507.7,463.1 506.6,463.8 C505.5,464.5 500.1,460.7 496.4,457.9 C492.7,455.1 487,449.7 484.6,446.9 C482.2,444.1 480.7,441.6 482,441 M515,435.9 L503.2,457 M496.4,450.3 L521.8,454.5 M502.3,425.6 L521.4,401.9 M508.7,418.3 L534.1,436.5 M522.3,425.6 L533.2,410.1 M543.2,381 C541.5,381.4 535.6,381.9 533.2,383.7 C530.8,385.5 528.6,389.5 528.7,391.9 C528.9,394.3 530.6,397.9 534.1,398.3 C537.6,398.8 545.1,395.8 549.6,394.6 C554.1,393.4 559,390.1 561.4,391 C563.8,391.9 564.7,396.9 564.2,400.1 C563.8,403.3 561.4,407.1 558.7,410.1 C556,413.1 551.4,416.5 547.8,418.3 C544.2,420.1 538.7,420.6 536.9,421 M558.7,369.2 C561.1,367.7 565.7,363.8 569.6,363.7 C573.5,363.6 579.7,365.9 582.4,368.3 C585.1,370.7 586.6,375.3 586,378.3 C585.4,381.3 581.9,385 578.7,386.5 C575.5,388 570.5,388.2 566.9,387.4 C563.3,386.6 558.9,384.3 556.9,381.9 C554.9,379.5 554.8,374.9 555.1,372.8 C555.4,370.7 556.3,370.7 558.7,369.2 M567.8,354.6 L591.5,326.4 M585.1,358.2 L603.3,332.8 M584.2,354.6 L603.3,366.4 M601.5,312.7 C603.5,312.2 609.5,309.4 613.3,310 C617.1,310.6 622.4,315.3 624.2,316.4 M601.5,313.5 L613.3,334.6 L622.4,344.6 M628.8,313.7 L614,336 M616,319.1 L644.3,327.3" stroke="#2a2a2a" stroke-width="4.3" fill="none" stroke-linecap="round" stroke-linejoin="round"/>
</svg>
</body></html>
